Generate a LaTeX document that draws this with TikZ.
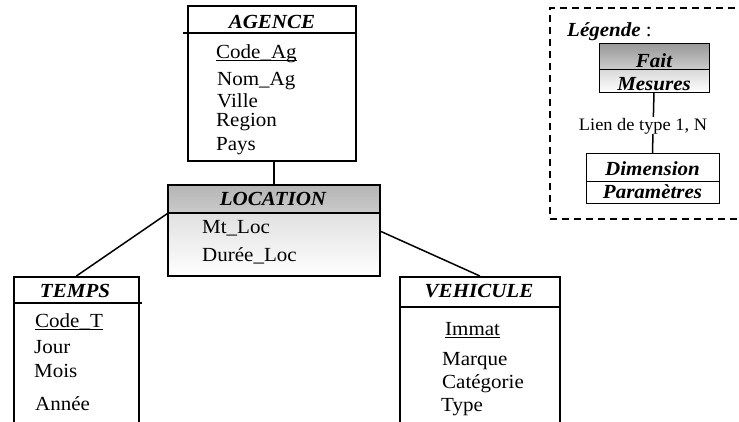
\documentclass[tikz,border=0pt]{standalone}
\usepackage{fontspec}
\setmainfont[FakeStretch=1.05]{Liberation Serif}
\newcommand\myul[1]{\setbox0\hbox{#1}\rlap{\rule[-2.6pt]{\wd0}{1.1pt}}\box0}
\begin{document}
\begin{tikzpicture}[x=1pt,y=-1pt,
  box/.style={draw, line width=1.8pt, rectangle, inner sep=0pt, anchor=north west},
  lbox/.style={draw, line width=1.3pt, rectangle, inner sep=0pt, anchor=north west},
  link/.style={line width=1.5pt},
  hline/.style={line width=1.8pt},
  attr/.style={anchor=base west, inner sep=0pt, font=\fontsize{20}{23}\selectfont},
  ttl/.style={anchor=base, inner sep=0pt, font=\fontsize{20}{23}\selectfont\bfseries\itshape},
]
\useasboundingbox (0,0) rectangle (739,421);
\clip (0,0) rectangle (739,421);

% AGENCE
\node[box, minimum width=168pt, minimum height=155pt] (agence) at (187,5) {};
\coordinate (aghl) at (183,33);
\draw[hline] (aghl) -- (aghl -| agence.east);
\node[ttl] (agt) at (272,28) {AGENCE};
\node[attr] (ag1) at (216,58) {\myul{Code\_Ag}};
\node[attr] (ag2) at (217,85) {Nom\_Ag};
\node[attr] (ag3) at (217,107.5) {Ville};
\node[attr] (ag4) at (216,126) {Region};
\node[attr] (ag5) at (216,150) {Pays};

% LOCATION
\node[box, minimum width=212pt, minimum height=63pt, top color=black!12, bottom color=white] (locbody) at (167,212) {};
\node[box, minimum width=212pt, minimum height=28pt, top color=black!29, bottom color=black!21] (lochead) at (167,184) {};
\node[ttl] (loct) at (273,205) {LOCATION};
\node[attr] (loc1) at (202,233) {Mt\_Loc};
\node[attr] (loc2) at (202,261) {Durée\_Loc};

% TEMPS
\node[box, minimum width=125pt, minimum height=160pt] (temps) at (13,276) {};
\coordinate (tphl) at (142,303);
\draw[hline] (tphl) -- (tphl -| temps.west);
\node[ttl] (tpt) at (75,297) {TEMPS};
\node[attr] (tp1) at (35,327) {\myul{Code\_T}};
\node[attr] (tp2) at (34,353) {Jour};
\node[attr] (tp3) at (34,377) {Mois};
\node[attr] (tp4) at (35,410) {Année};

% VEHICULE
\node[box, minimum width=160pt, minimum height=160pt] (vehicule) at (399,276) {};
\draw[hline] (vehicule.west |- 0,307) -- (vehicule.east |- 0,307);
\node[ttl] (vht) at (479,297) {VEHICULE};
\node[attr] (vh1) at (445,335) {\myul{Immat}};
\node[attr] (vh2) at (442,365) {Marque};
\node[attr] (vh3) at (442,388) {Catégorie};
\node[attr] (vh4) at (441,411) {Type};

% connectors
\draw[link] (lochead.north) -- (lochead.north |- agence.south);
\draw[link] (lochead.south west) -- (temps.north);
\draw[link] ([yshift=13pt]locbody.east) -- (vehicule.north);

% Legend
\node[draw, dash pattern=on 7pt off 5pt, line width=1.6pt, minimum width=215pt, minimum height=211pt, anchor=north west, inner sep=0pt] (legend) at (549,7) {};
\node[attr] (legt) at (567,36) {\textbf{\textit{Légende}} :};
\draw[link] (654,92) -- (652.5,153);
\node[lbox, minimum width=110pt, minimum height=26pt, top color=black!40, bottom color=black!20] (fait) at (599,43) {};
\node[lbox, minimum width=110pt, minimum height=23pt, top color=black!15, bottom color=white] (mesures) at (599,69) {};
\node[ttl] at (654,67) {Fait};
\node[ttl] at (654,90) {Mesures};
\node[lbox, minimum width=133pt, minimum height=28pt, fill=white] (dim) at (586,153) {};
\node[lbox, minimum width=133pt, minimum height=22pt, fill=white] (param) at (586,181) {};
\node[ttl] at (652.5,175) {Dimension};
\node[ttl] at (652.5,198) {Paramètres};
\node[anchor=base, fill=white, inner sep=0.5pt, font=\fontsize{17.5}{20}\selectfont] (lien) at (643,130) {Lien de type 1, N};
\end{tikzpicture}
\end{document}
